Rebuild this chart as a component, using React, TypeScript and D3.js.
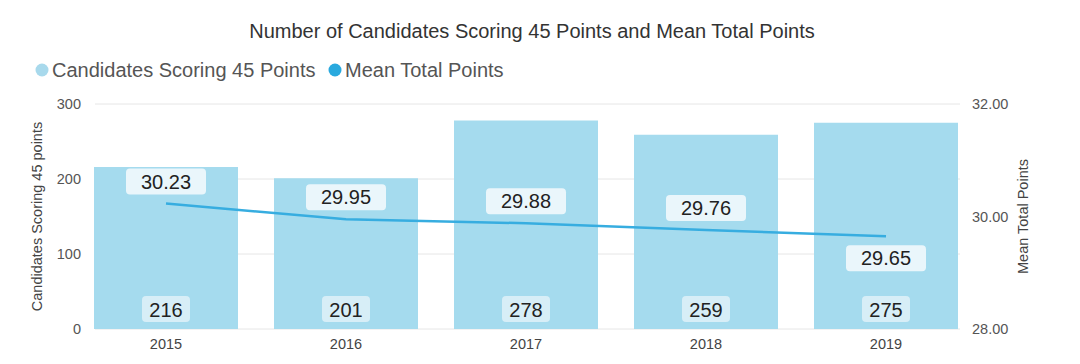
import React from "react";
import * as d3 from "d3";

const years = ["2015", "2016", "2017", "2018", "2019"];
const candidates = [216, 201, 278, 259, 275];
const meanPoints = [30.23, 29.95, 29.88, 29.76, 29.65];
const leftTicks = [0, 100, 200, 300];
const rightTicks = [28, 30, 32];

const W = 1080;
const H = 364;
const font = "'Liberation Sans', Arial, sans-serif";
const barColor = "#a5dbee";
const lineColor = "#37ade0";

export default function App() {
  const x = d3.scaleBand<string>().domain(years).range([76, 976]).paddingInner(0.2).paddingOuter(0.1);
  const yL = d3.scaleLinear().domain([0, 300]).range([329, 104]);
  const yR = d3.scaleLinear().domain([28, 32]).range([329, 104]);

  const cx = (d: string) => (x(d) ?? 0) + x.bandwidth() / 2;
  const line = d3
    .line<number>()
    .x((_, i) => cx(years[i]))
    .y((d) => yR(d));

  return (
    <svg width={W} height={H} style={{ position: "absolute", left: 0, top: 0, background: "#fff" }} fontFamily={font}>
      <text x={532} y={38} textAnchor="middle" fontSize={20} fill="#333">
        Number of Candidates Scoring 45 Points and Mean Total Points
      </text>

      {/* legend */}
      <circle cx={42} cy={70} r={6.5} fill="#a8d9ec" />
      <text x={52} y={77} fontSize={20} fill="#555">Candidates Scoring 45 Points</text>
      <circle cx={335} cy={70} r={6.5} fill="#29a9de" />
      <text x={345} y={77} fontSize={20} fill="#555">Mean Total Points</text>

      {/* grid */}
      {leftTicks.map((t) => (
        <g key={t}>
          <line x1={95} x2={960} y1={yL(t)} y2={yL(t)} stroke="#e6e6e6" />
          <text x={81} y={yL(t) + 5} textAnchor="end" fontSize={14.5} fill="#555">{t}</text>
        </g>
      ))}
      {rightTicks.map((t) => (
        <text key={t} x={972} y={yR(t) + 5} fontSize={14.5} fill="#555">{t.toFixed(2)}</text>
      ))}

      <text transform={`translate(42,${yL(150)}) rotate(-90)`} textAnchor="middle" fontSize={14.5} fill="#444">
        Candidates Scoring 45 points
      </text>
      <text transform={`translate(1028,${yR(30)}) rotate(-90)`} textAnchor="middle" fontSize={14.5} fill="#444">
        Mean Total Points
      </text>

      {/* bars */}
      {candidates.map((v, i) => (
        <rect key={years[i]} x={x(years[i])} y={yL(v)} width={x.bandwidth()} height={yL(0) - yL(v)} fill={barColor} />
      ))}

      {years.map((yr) => (
        <text key={yr} x={cx(yr)} y={349} textAnchor="middle" fontSize={14.5} fill="#444">{yr}</text>
      ))}

      {/* line */}
      <path d={line(meanPoints) ?? ""} fill="none" stroke={lineColor} strokeWidth={2.5} />

      {/* bar labels */}
      {candidates.map((v, i) => (
        <g key={"b" + i}>
          <rect x={cx(years[i]) - 24} y={296} width={48} height={26} rx={4} fill="#e4f3f9" opacity={0.8} />
          <text x={cx(years[i])} y={317} textAnchor="middle" fontSize={20} fill="#222">{v}</text>
        </g>
      ))}

      {/* mean labels */}
      {meanPoints.map((v, i) => {
        const last = i === meanPoints.length - 1;
        const cy = yR(v) + (last ? 22 : -22);
        return (
          <g key={"m" + i}>
            <rect x={cx(years[i]) - 40} y={cy - 13} width={80} height={26} rx={4} fill="#eaf6fb" />
            <text x={cx(years[i])} y={cy + 7} textAnchor="middle" fontSize={20} fill="#222">{v.toFixed(2)}</text>
          </g>
        );
      })}
    </svg>
  );
}
